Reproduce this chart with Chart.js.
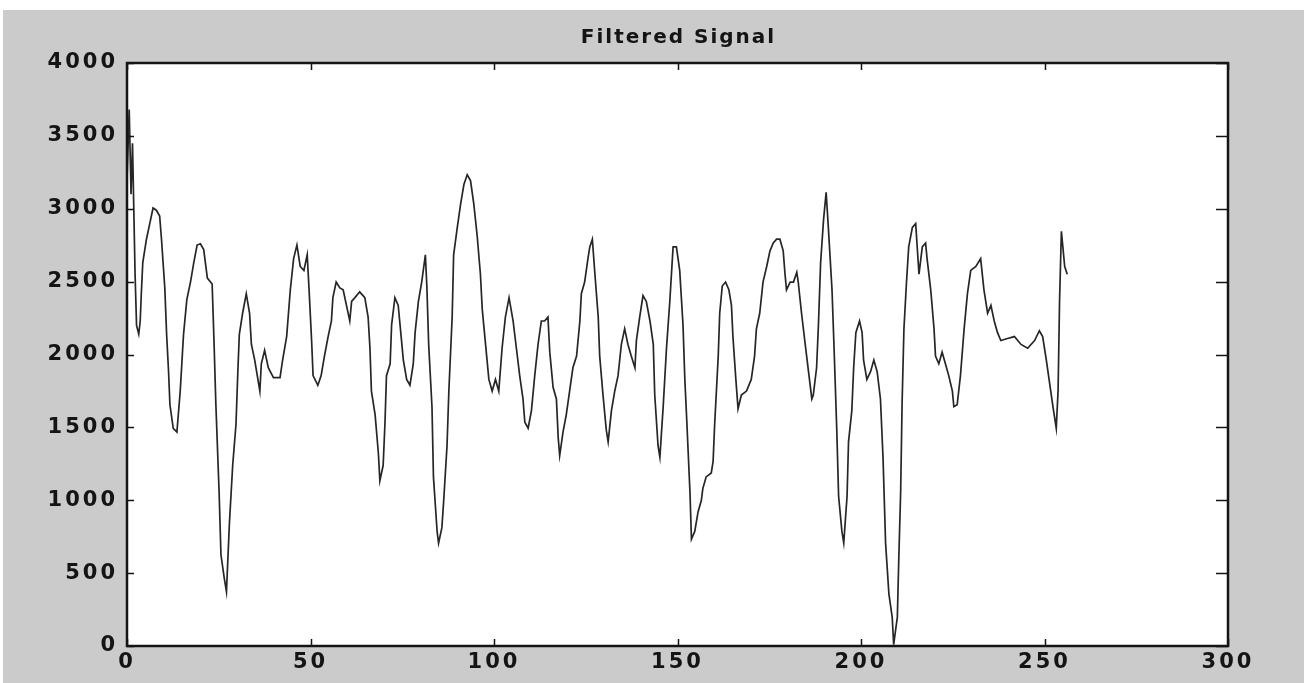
<!DOCTYPE html>
<html>
<head>
<meta charset="utf-8">
<script src="https://cdn.jsdelivr.net/npm/chart.js@4.4.1/dist/chart.umd.min.js"></script>
<style>
  html, body { margin: 0; padding: 0; background: #ffffff; }
  #wrap { width: 1304px; height: 683px; }
</style>
</head>
<body>
<div id="wrap"><canvas id="c" width="1304" height="683"></canvas></div>
<script>
// ---- data ----
const chartTitle = 'Filtered Signal';
const xTickValues = [0, 50, 100, 150, 200, 250, 300];
const yTickValues = [0, 500, 1000, 1500, 2000, 2500, 3000, 3500, 4000];

const sampleIdx = [
  0, 0.6, 1.1, 1.5, 2.2, 2.6, 3.2, 3.6, 3.9, 4.3, 5.3, 6.2, 7.1, 8.0, 8.9, 9.4, 10.3, 10.8, 11.3, 11.7,
  12.6, 13.6, 14.5, 15.4, 16.3, 17.3, 18.2, 19.1, 20.0, 20.9, 21.9, 23.2, 23.7, 24.2, 25.1, 25.6, 26.5, 27.1, 27.9, 28.8,
  29.7, 30.2, 30.6, 31.5, 32.5, 33.4, 33.9, 34.8, 36.2, 36.6, 37.5, 38.5, 39.9, 41.7, 42.4, 43.5, 44.5, 45.4, 46.3, 47.2,
  48.2, 49.1, 49.6, 50.3, 50.7, 52.0, 52.9, 53.8, 54.8, 55.7, 56.1, 57.0, 58.0, 58.9, 59.8, 60.7, 61.2, 62.1, 63.4, 64.8,
  65.7, 66.2, 66.6, 67.6, 68.5, 68.9, 69.8, 70.3, 70.7, 71.7, 72.1, 73.0, 73.9, 74.4, 75.3, 76.2, 77.1, 78.0, 78.5, 79.4,
  80.3, 81.3, 81.7, 82.2, 83.1, 83.5, 84.5, 84.9, 85.8, 86.3, 87.2, 87.7, 88.6, 89.0, 90.0, 90.9, 91.8, 92.7, 93.6, 94.5,
  95.4, 96.3, 96.8, 97.7, 98.6, 99.5, 100.4, 101.3, 102.2, 103.1, 104.1, 105.2, 106.1, 107.0, 107.9, 108.4, 109.3, 110.2, 111.1, 112.0,
  112.9, 113.8, 114.7, 115.2, 116.1, 117.0, 117.5, 117.9, 118.8, 119.7, 120.6, 121.5, 122.5, 123.4, 123.8, 124.7, 125.6, 126.1, 126.8, 127.5,
  128.4, 128.8, 129.7, 130.6, 131.1, 132.0, 132.9, 133.8, 134.7, 135.6, 136.5, 137.4, 138.4, 138.8, 139.7, 140.6, 141.5, 142.5, 143.4, 143.8,
  144.7, 145.2, 146.1, 147.0, 147.9, 148.8, 149.7, 150.6, 151.5, 152.0, 152.5, 153.4, 153.8, 154.7, 155.6, 156.5, 156.9, 157.8, 159.2, 159.7,
  160.1, 160.6, 161.1, 161.5, 162.2, 163.1, 164.0, 164.7, 165.1, 165.9, 166.5, 167.4, 168.8, 170.1, 171.0, 171.5, 172.4, 173.3, 174.3, 175.2,
  176.1, 177.0, 177.9, 178.8, 179.3, 179.7, 180.7, 181.6, 182.5, 182.9, 183.8, 184.8, 185.7, 186.6, 187.0, 187.9, 188.4, 189.0, 189.8, 190.5,
  191.1, 192.1, 192.7, 193.4, 193.9, 194.8, 195.3, 196.2, 196.6, 197.5, 198.0, 198.6, 199.6, 200.3, 200.7, 201.6, 202.6, 203.5, 204.4, 205.3,
  206.0, 206.7, 207.6, 208.5, 208.9, 209.9, 210.3, 210.8, 211.2, 211.7, 212.4, 213.0, 214.0, 214.9, 215.8, 216.7, 217.6, 218.0, 219.0, 219.9,
  220.3, 221.2, 222.1, 223.0, 223.9, 224.9, 225.3, 226.2, 227.1, 228.1, 229.0, 229.9, 231.3, 232.6, 233.5, 234.5, 235.4, 236.3, 237.2, 238.1,
  239.9, 241.8, 243.6, 245.4, 247.3, 248.6, 249.5, 250.5, 251.4, 252.3, 253.2, 253.7, 254.1, 254.6, 255.0, 255.5, 256.2
];

const signalValues = [
  3200, 3680, 3100, 3450, 2550, 2200, 2140, 2230, 2417, 2631, 2791, 2898, 3005, 2990, 2950, 2791, 2457, 2136, 1895, 1655,
  1494, 1468, 1749, 2136, 2377, 2497, 2631, 2751, 2760, 2720, 2524, 2484, 2096, 1668, 1053, 626, 465, 372, 839, 1240,
  1521, 1882, 2136, 2283, 2417, 2283, 2069, 1962, 1749, 1936, 2029, 1909, 1842, 1842, 1962, 2123, 2444, 2658, 2751, 2604,
  2577, 2684, 2450, 2096, 1855, 1789, 1855, 1989, 2123, 2230, 2390, 2497, 2457, 2444, 2337, 2230, 2364, 2390, 2430, 2390,
  2257, 2043, 1749, 1588, 1321, 1133, 1240, 1535, 1855, 1936, 2203, 2390, 2337, 2203, 1962, 1829, 1789, 1936, 2150, 2364,
  2497, 2684, 2470, 2069, 1642, 1160, 786, 706, 812, 1000, 1374, 1749, 2257, 2684, 2872, 3032, 3166, 3233, 3193, 3032,
  2818, 2551, 2310, 2069, 1829, 1749, 1829, 1749, 2043, 2257, 2390, 2230, 2043, 1855, 1695, 1535, 1494, 1615, 1855, 2069,
  2230, 2230, 2257, 2016, 1775, 1695, 1428, 1307, 1468, 1588, 1749, 1909, 1989, 2230, 2417, 2497, 2658, 2738, 2791, 2551,
  2257, 1989, 1722, 1481, 1401, 1615, 1749, 1855, 2069, 2176, 2069, 1989, 1909, 2096, 2257, 2404, 2364, 2230, 2069, 1722,
  1374, 1294, 1642, 2043, 2364, 2738, 2738, 2577, 2203, 1829, 1561, 1053, 733, 786, 920, 1000, 1080, 1160, 1187, 1267,
  1508, 1749, 1989, 2283, 2470, 2497, 2444, 2337, 2123, 1829, 1628, 1722, 1749, 1829, 1989, 2176, 2283, 2497, 2604, 2711,
  2765, 2791, 2791, 2711, 2551, 2444, 2497, 2497, 2564, 2497, 2283, 2069, 1882, 1695, 1722, 1909, 2203, 2631, 2925, 3112,
  2872, 2444, 2016, 1481, 1027, 786, 706, 1027, 1401, 1615, 1909, 2150, 2230, 2150, 1962, 1829, 1882, 1962, 1882, 1695,
  1294, 706, 358, 198, 10, 198, 599, 1053, 1668, 2176, 2497, 2738, 2872, 2898, 2551, 2738, 2765, 2658, 2444, 2176,
  1989, 1936, 2016, 1936, 1855, 1749, 1642, 1655, 1855, 2176, 2417, 2577, 2604, 2658, 2444, 2283, 2337, 2230, 2150, 2096,
  2110, 2123, 2069, 2043, 2096, 2163, 2123, 1962, 1802, 1642, 1494, 1749, 2364, 2845, 2738, 2604, 2551
];

const points = sampleIdx.map((x, i) => ({ x: x, y: signalValues[i] }));

const FONT = 'DejaVu Sans';
const INK = '#141414';

const bgPlugin = {
  id: 'bg',
  beforeDraw(chart) {
    const ctx = chart.ctx;
    ctx.save();
    ctx.fillStyle = '#ffffff';
    ctx.fillRect(0, 0, chart.width, chart.height);
    ctx.fillStyle = '#cbcbcb';
    ctx.fillRect(3, 10, chart.width - 3, chart.height - 10);
    const a = chart.chartArea;
    ctx.fillStyle = '#ffffff';
    ctx.fillRect(a.left, a.top, a.right - a.left, a.bottom - a.top);
    ctx.restore();
    ctx.letterSpacing = '3px';
  }
};

const framePlugin = {
  id: 'frame',
  afterDraw(chart) {
    const ctx = chart.ctx;
    const a = chart.chartArea;
    const xs = chart.scales.x, ys = chart.scales.y;
    ctx.save();
    ctx.strokeStyle = INK;
    ctx.lineWidth = 1.5;
    ctx.beginPath();
    xTickValues.forEach(v => {
      const px = Math.round(xs.getPixelForValue(v)) + 0.5;
      ctx.moveTo(px, a.bottom); ctx.lineTo(px, a.bottom - 7);
      ctx.moveTo(px, a.top); ctx.lineTo(px, a.top + 7);
    });
    yTickValues.forEach(v => {
      const py = Math.round(ys.getPixelForValue(v)) + 0.5;
      ctx.moveTo(a.left, py); ctx.lineTo(a.left + 7, py);
      ctx.moveTo(a.right, py); ctx.lineTo(a.right - 12, py);
    });
    ctx.stroke();
    ctx.lineWidth = 2.5;
    ctx.strokeRect(a.left, a.top, a.right - a.left, a.bottom - a.top);
    // title, centred over the plot area
    ctx.letterSpacing = '2px';
    ctx.fillStyle = INK;
    ctx.font = 'bold 20px "' + FONT + '"';
    ctx.textAlign = 'center';
    ctx.textBaseline = 'middle';
    ctx.fillText(chartTitle, (a.left + a.right) / 2 + 1, 38);
    ctx.restore();
  }
};

new Chart(document.getElementById('c'), {
  type: 'scatter',
  data: {
    datasets: [{
      data: points,
      showLine: true,
      borderColor: '#262626',
      borderWidth: 1.7,
      pointRadius: 0,
      tension: 0,
      fill: false
    }]
  },
  options: {
    responsive: false,
    animation: false,
    devicePixelRatio: 1,
    layout: { padding: { top: 63, left: 0, right: 76, bottom: 0 } },
    plugins: {
      legend: { display: false },
      tooltip: { enabled: false },
      title: { display: false }
    },
    scales: {
      x: {
        type: 'linear',
        min: 0, max: 300,
        afterFit(scale) { scale.height = 37; },
        afterBuildTicks(scale) { scale.ticks = xTickValues.map(v => ({ value: v })); },
        grid: { display: false, drawTicks: false },
        border: { display: false },
        ticks: {
          color: INK,
          padding: 4,
          maxRotation: 0,
          font: { family: FONT, size: 21, weight: 'bold' },
          callback: (v) => String(v)
        }
      },
      y: {
        type: 'linear',
        min: 0, max: 4000,
        afterFit(scale) { scale.width = 127; },
        afterBuildTicks(scale) { scale.ticks = yTickValues.map(v => ({ value: v })); },
        grid: { display: false, drawTicks: false },
        border: { display: false },
        ticks: {
          color: INK,
          padding: 9,
          font: { family: FONT, size: 21, weight: 'bold' },
          callback: (v) => String(v)
        }
      }
    }
  },
  plugins: [bgPlugin, framePlugin]
});
</script>
</body>
</html>
